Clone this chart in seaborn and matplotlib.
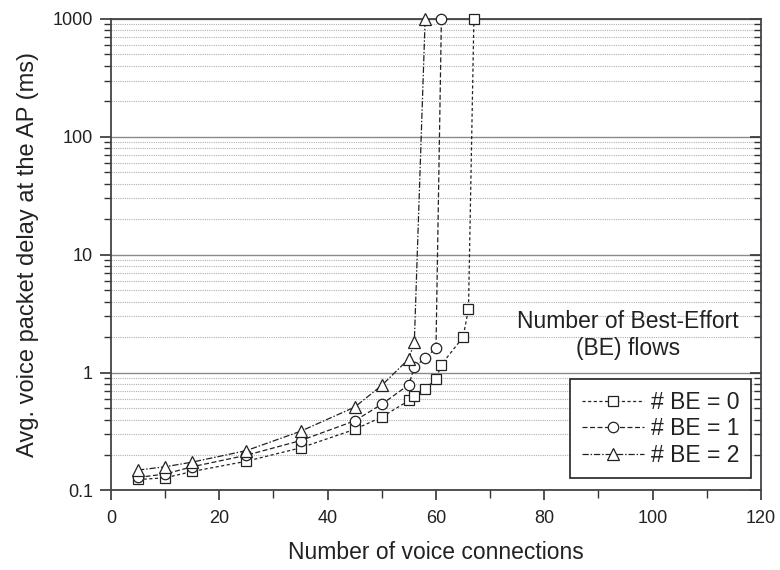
import matplotlib
matplotlib.use("Agg")
import matplotlib.pyplot as plt
import numpy as np
import pandas as pd
import seaborn as sns
from matplotlib.ticker import FixedLocator, FixedFormatter, MultipleLocator, NullFormatter

# Average voice packet delay vs number of voice connections
conn_be0 = [5, 10, 15, 25, 35, 45, 50, 55, 56, 58, 60, 61, 65, 66, 67]
delay_be0 = [0.124, 0.128, 0.145, 0.177, 0.23, 0.33, 0.42, 0.58, 0.63, 0.73, 0.88, 1.17, 2.0, 3.45, 1000]

conn_be1 = [5, 10, 15, 25, 35, 45, 50, 55, 56, 58, 60, 61]
delay_be1 = [0.129, 0.138, 0.159, 0.199, 0.265, 0.39, 0.54, 0.79, 1.11, 1.33, 1.62, 1000]

conn_be2 = [5, 10, 15, 25, 35, 45, 50, 55, 56, 58]
delay_be2 = [0.149, 0.159, 0.174, 0.218, 0.318, 0.51, 0.78, 1.31, 1.81, 1000]

series_labels = ["# BE = 0", "# BE = 1", "# BE = 2"]
y_tick_values = [0.1, 1, 10, 100, 1000]
y_tick_labels = ["0.1", "1", "10", "100", "1000"]
x_tick_values = [0, 20, 40, 60, 80, 100, 120]

sns.set_style("ticks")
plt.rcParams["font.family"] = ["Liberation Sans", "DejaVu Sans"]

fig = plt.figure(figsize=(7.8, 5.7), dpi=100)
ax = fig.add_axes([0.1423, 0.1395, 0.8333, 0.8272])

frames = [
    pd.DataFrame({"conn": conn_be0, "delay": delay_be0}),
    pd.DataFrame({"conn": conn_be1, "delay": delay_be1}),
    pd.DataFrame({"conn": conn_be2, "delay": delay_be2}),
]
markers = ["s", "o", "^"]
dash_patterns = [(2.5, 2.0), (4.0, 2.0), (5.0, 1.5, 1.2, 1.5)]
marker_sizes = [6.5, 7.5, 8]

for df, lab, mk, dp, ms in zip(frames, series_labels, markers, dash_patterns, marker_sizes):
    sns.lineplot(
        data=df, x="conn", y="delay", ax=ax, label=lab,
        color="#222222", linewidth=0.9, marker=mk, markersize=ms,
        markerfacecolor="white", markeredgecolor="#222222", markeredgewidth=0.9,
        dashes=dp, clip_on=False, zorder=5,
    )

ax.set_yscale("log")
ax.set_xlim(0, 120)
ax.set_ylim(0.1, 1000)

ax.yaxis.set_major_locator(FixedLocator(y_tick_values))
ax.yaxis.set_major_formatter(FixedFormatter(y_tick_labels))
minor_vals = [m * 10.0 ** e for e in range(-1, 3) for m in range(2, 10)]
ax.yaxis.set_minor_locator(FixedLocator(minor_vals))
ax.yaxis.set_minor_formatter(NullFormatter())

ax.xaxis.set_major_locator(FixedLocator(x_tick_values))
ax.xaxis.set_minor_locator(MultipleLocator(10))

# Grid: solid at decades, dotted at intermediate values
ax.grid(which="major", axis="y", color="#8a8a8a", linewidth=1.0, linestyle="-")
ax.grid(which="minor", axis="y", color="#b0b0b0", linewidth=0.8, linestyle=(0, (1.0, 1.0)))
ax.grid(which="both", axis="x", visible=False)
ax.set_axisbelow(True)

for side in ["left", "right", "top", "bottom"]:
    ax.spines[side].set_visible(True)
    ax.spines[side].set_color("#444444")
    ax.spines[side].set_linewidth(1.3)

ax.tick_params(axis="y", which="major", direction="out", length=8, width=1.2,
               color="#333333", labelsize=13, labelcolor="#222222", right=True, pad=5)
ax.tick_params(axis="y", which="minor", direction="out", length=5, width=1.0,
               color="#333333", right=True)
ax.tick_params(axis="y", which="both", labelright=False)
ax.tick_params(axis="x", which="major", direction="out", length=7, width=1.2,
               color="#333333", labelsize=13, labelcolor="#222222", top=False, pad=7)
ax.tick_params(axis="x", which="minor", direction="out", length=6, width=1.0,
               color="#333333", top=False)

# right-side ticks point inward
for t in ax.yaxis.get_major_ticks() + ax.yaxis.get_minor_ticks():
    t.tick2line.set_marker(matplotlib.lines.TICKLEFT)

ax.set_xlabel("Number of voice connections", fontsize=16.5, color="#222222", labelpad=10)
ax.set_ylabel("Avg. voice packet delay at the AP (ms)", fontsize=17, color="#222222", labelpad=10)

ax.text(0.795, 0.33, "Number of Best-Effort\n(BE) flows", transform=ax.transAxes,
        ha="center", va="center", fontsize=16.5, color="#222222", linespacing=1.2)

leg = ax.legend(loc="upper right", bbox_to_anchor=(0.984, 0.236), borderaxespad=0,
                fontsize=16.5, frameon=True, fancybox=False, framealpha=1,
                edgecolor="#222222", handlelength=2.7, handletextpad=0.3,
                borderpad=0.5, labelspacing=0.15)
leg.get_frame().set_linewidth(1.2)
for txt in leg.get_texts():
    txt.set_color("#222222")

fig.savefig("out.png", dpi=100)
